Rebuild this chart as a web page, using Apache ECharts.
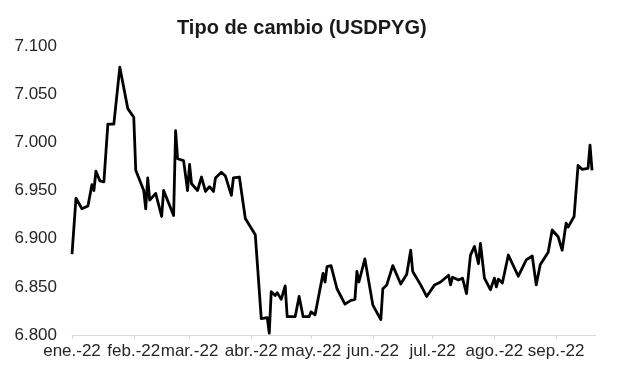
<!DOCTYPE html>
<html>
<head>
<meta charset="utf-8">
<script src="https://cdn.jsdelivr.net/npm/echarts@6/dist/echarts.min.js"></script>
<style>
html,body{margin:0;padding:0;background:#fff;}
#chart{width:617px;height:384px;}
</style>
</head>
<body>
<div id="chart"></div>
<script>
const titleText = 'Tipo de cambio (USDPYG)';
const dates = [
'2022-01-01','2022-01-03','2022-01-06','2022-01-09','2022-01-11','2022-01-12','2022-01-13','2022-01-15','2022-01-17','2022-01-19',
'2022-01-22','2022-01-25','2022-01-29','2022-02-01','2022-02-02','2022-02-06','2022-02-07','2022-02-08','2022-02-09','2022-02-12',
'2022-02-15','2022-02-16','2022-02-21','2022-02-22','2022-02-23','2022-02-26','2022-02-28','2022-03-01','2022-03-02','2022-03-05',
'2022-03-07','2022-03-09','2022-03-11','2022-03-13','2022-03-14','2022-03-17','2022-03-19','2022-03-22','2022-03-23','2022-03-26',
'2022-03-29','2022-04-03','2022-04-06','2022-04-09','2022-04-10','2022-04-11','2022-04-13','2022-04-14','2022-04-16','2022-04-18',
'2022-04-19','2022-04-23','2022-04-25','2022-04-27','2022-04-30','2022-05-01','2022-05-03','2022-05-07','2022-05-08','2022-05-09',
'2022-05-11','2022-05-14','2022-05-15','2022-05-18','2022-05-21','2022-05-23','2022-05-24','2022-05-25','2022-05-28','2022-06-01',
'2022-06-05','2022-06-06','2022-06-08','2022-06-11','2022-06-15','2022-06-18','2022-06-20','2022-06-21','2022-06-22','2022-06-25',
'2022-06-28','2022-07-02','2022-07-05','2022-07-09','2022-07-10','2022-07-11','2022-07-14','2022-07-16','2022-07-18','2022-07-20',
'2022-07-22','2022-07-24','2022-07-25','2022-07-27','2022-07-30','2022-08-01','2022-08-02','2022-08-03','2022-08-05','2022-08-08',
'2022-08-13','2022-08-17','2022-08-20','2022-08-22','2022-08-24','2022-08-28','2022-08-30','2022-09-02','2022-09-04','2022-09-06',
'2022-09-07','2022-09-10','2022-09-12','2022-09-14','2022-09-17','2022-09-18','2022-09-19'
];
const values = [
6.884,6.942,6.931,6.934,6.956,6.950,6.970,6.960,6.959,7.019,
7.019,7.078,7.035,7.026,6.971,6.950,6.931,6.963,6.940,6.947,
6.923,6.950,6.924,7.012,6.983,6.981,6.950,6.977,6.957,6.950,
6.964,6.949,6.954,6.949,6.963,6.969,6.965,6.945,6.963,6.964,
6.921,6.904,6.817,6.818,6.802,6.845,6.841,6.844,6.837,6.851,
6.819,6.819,6.840,6.819,6.819,6.824,6.821,6.864,6.855,6.871,
6.872,6.848,6.847,6.832,6.836,6.837,6.866,6.855,6.879,6.831,
6.816,6.848,6.852,6.872,6.853,6.863,6.888,6.866,6.866,6.852,
6.840,6.852,6.855,6.862,6.852,6.860,6.857,6.859,6.843,6.883,
6.892,6.874,6.895,6.859,6.847,6.859,6.850,6.858,6.854,6.883,
6.861,6.878,6.882,6.852,6.873,6.886,6.909,6.902,6.888,6.916,
6.912,6.923,6.976,6.972,6.973,6.997,6.971
];
const monthStarts = ['2022-01-01','2022-02-01','2022-03-01','2022-04-01','2022-05-01','2022-06-01','2022-07-01','2022-08-01','2022-09-01'];
const monthLabels = ['ene.-22','feb.-22','mar.-22','abr.-22','may.-22','jun.-22','jul.-22','ago.-22','sep.-22'];
const axisStart = '2022-01-01', axisEnd = '2022-09-21';
const yMin = 6.8, yMax = 7.1, yStep = 0.05;

const DAY = 86400000;
const t0 = Date.parse(axisStart + 'T00:00:00Z');
const dayOf = d => Math.round((Date.parse(d + 'T00:00:00Z') - t0) / DAY);
const monthDays = monthStarts.map(dayOf);
const labelMap = {};
monthDays.forEach((d, i) => { labelMap[d] = monthLabels[i]; });

const chart = echarts.init(document.getElementById('chart'), null, {renderer: 'canvas'});
const font = '"Liberation Sans", Arial, sans-serif';
chart.setOption({
  animation: false,
  backgroundColor: '#ffffff',
  title: {
    text: titleText,
    left: 172,
    top: 13,
    textStyle: {fontFamily: font, fontSize: 20, fontWeight: 'bold', color: '#1a1a1a'}
  },
  grid: {left: 72, right: 21, top: 46, bottom: 49, containLabel: false},
  xAxis: {
    type: 'value',
    min: 0,
    max: dayOf(axisEnd),
    axisLine: {show: true, onZero: false, lineStyle: {color: '#d9d9d9', width: 1}},
    axisTick: {show: true, customValues: monthDays, length: 4, lineStyle: {color: '#d9d9d9'}},
    axisLabel: {
      customValues: monthDays,
      formatter: v => labelMap[Math.round(v)] || '',
      fontFamily: font, fontSize: 17, color: '#262626', margin: 8,
      hideOverlap: false
    },
    splitLine: {show: false}
  },
  yAxis: {
    type: 'value',
    min: yMin, max: yMax, interval: yStep,
    axisLine: {show: false},
    axisTick: {show: false},
    splitLine: {show: false},
    axisLabel: {
      formatter: v => v.toFixed(3),
      fontFamily: font, fontSize: 17, color: '#262626', margin: 15
    }
  },
  series: [{
    type: 'line',
    data: dates.map((d, i) => [dayOf(d), values[i]]),
    showSymbol: false,
    symbol: 'none',
    lineStyle: {color: '#000000', width: 2.8, join: 'round'},
    itemStyle: {color: '#000000'}
  }]
});
</script>
</body>
</html>
